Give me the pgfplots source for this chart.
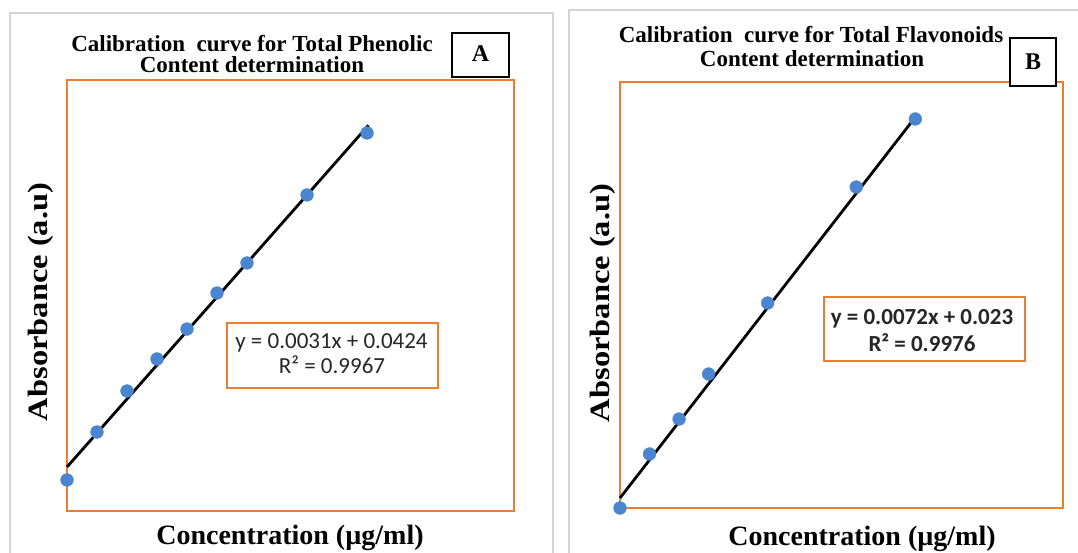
\documentclass[border=0pt]{standalone}
\usepackage{pgfplots}
\pgfplotsset{compat=1.18}
\usepackage{fontspec}
\setmainfont{Liberation Serif}
\newfontfamily\carlito{Carlito}
\definecolor{xlorange}{HTML}{ED7D31}
\definecolor{xlblue}{HTML}{4A86CF}
\definecolor{panelgray}{HTML}{D4D4D4}
\definecolor{eqtext}{HTML}{262626}
\begin{document}
\begin{tikzpicture}[x=1pt,y=1pt]
\path[use as bounding box] (0,0) rectangle (1078,552);
\clip (0,0) rectangle (1078,552);
\draw[panelgray, line width=1.5pt] (10,-10) rectangle (553,539);
\draw[panelgray, line width=1.5pt] (569,-10) rectangle (1090,542);
% Panel A
\begin{axis}[at={(67pt,41pt)}, anchor=south west, scale only axis,
  width=447pt, height=431pt, xmin=0, xmax=149, ymin=0.0023, ymax=0.3952,
  xtick=\empty, ytick=\empty, axis line style={xlorange, line width=2.2pt},
  clip=false]
\addplot[only marks, mark=*, mark size=6.4pt, color=xlblue, mark options={draw=xlblue, fill=xlblue}]
  coordinates {(0,0.0306) (10,0.0743) (20,0.1117) (30,0.1409) (40,0.1682) (50,0.2010) (60,0.2284) (80,0.2904) (100,0.3469)};
\addplot[black, line width=2.8pt] coordinates {(0,0.0424) (100.5,0.35395)};
\end{axis}
% Panel B
\begin{axis}[at={(620pt,44pt)}, anchor=south west, scale only axis,
  width=443pt, height=426pt, xmin=0, xmax=150, ymin=0.0041, ymax=0.8094,
  xtick=\empty, ytick=\empty, axis line style={xlorange, line width=2.2pt},
  clip=false]
\addplot[only marks, mark=*, mark size=6.4pt, color=xlblue, mark options={draw=xlblue, fill=xlblue}]
  coordinates {(0,0.0041) (10,0.1062) (20,0.1723) (30,0.2574) (50,0.3916) (80,0.6109) (100,0.7395)};
\addplot[black, line width=2.8pt] coordinates {(0,0.023) (100.5,0.7466)};
\end{axis}
% Titles
\node[anchor=base, font=\fontsize{23}{23}\selectfont\bfseries] at (252,500.5) {Calibration\ \ curve for Total Phenolic};
\node[anchor=base, font=\fontsize{23}{23}\selectfont\bfseries] at (252,479) {Content determination};
\node[anchor=base, font=\fontsize{23}{23}\selectfont\bfseries] at (811,509) {Calibration\ \ curve for Total Flavonoids};
\node[anchor=base, font=\fontsize{23}{23}\selectfont\bfseries] at (812,485) {Content determination};
% Letter boxes
\draw[black, line width=2pt, fill=white] (452,475) rectangle (509,519);
\node[font=\fontsize{24}{24}\selectfont\bfseries, inner sep=0pt] at (480.5,498) {A};
\draw[black, line width=2pt, fill=white] (1010,466) rectangle (1056,514);
\node[font=\fontsize{24}{24}\selectfont\bfseries, inner sep=0pt] at (1033,490) {B};
% Equation boxes
\draw[xlorange, line width=2pt, fill=white] (227,164) rectangle (438,229);
\node[anchor=base, font=\carlito\fontsize{23}{23}\selectfont, text=eqtext] at (331.5,204) {y = 0.0031x + 0.0424};
\node[anchor=base, font=\carlito\fontsize{23}{23}\selectfont, text=eqtext] at (332,179) {R² = 0.9967};
\draw[xlorange, line width=2pt, fill=white] (824,191) rectangle (1025,255);
\node[anchor=base, font=\carlito\fontsize{23}{23}\selectfont\bfseries, text=eqtext] at (922,227) {y = 0.0072x + 0.023};
\node[anchor=base, font=\carlito\fontsize{23}{23}\selectfont\bfseries, text=eqtext] at (922,201) {R² = 0.9976};
% Axis labels
\node[anchor=base, font=\fontsize{28}{28}\selectfont\bfseries] at (290,8) {Concentration (µg/ml)};
\node[anchor=base, font=\fontsize{28}{28}\selectfont\bfseries] at (862,6.5) {Concentration (µg/ml)};
\node[rotate=90, font=\fontsize{28}{28}\selectfont\bfseries, inner sep=0pt] at (41,250) {\scalebox{1.16}[1]{Absorbance (a.u)}};
\node[rotate=90, font=\fontsize{28}{28}\selectfont\bfseries, inner sep=0pt] at (603,249) {\scalebox{1.16}[1]{Absorbance (a.u)}};
\end{tikzpicture}
\end{document}
